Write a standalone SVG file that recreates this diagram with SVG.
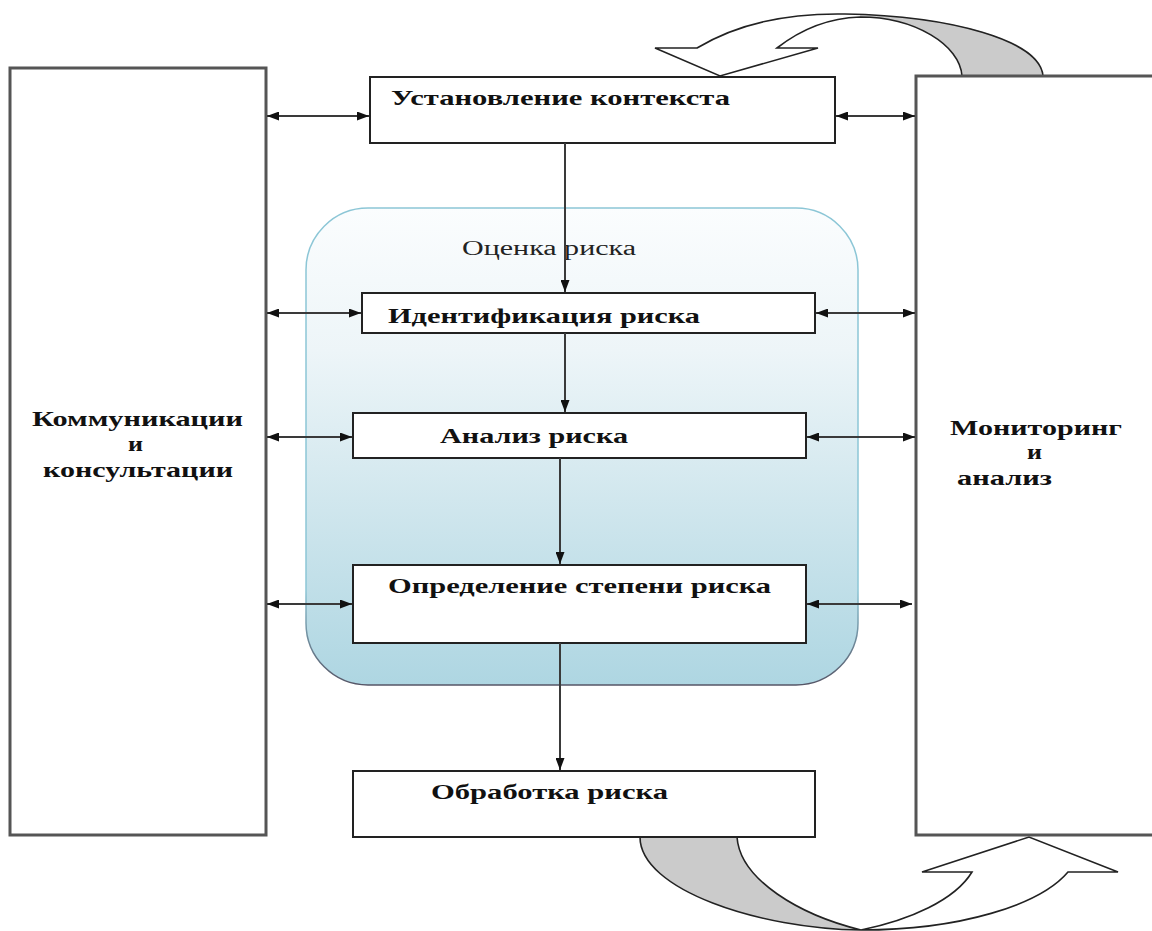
<svg xmlns="http://www.w3.org/2000/svg" width="1152" height="931" viewBox="0 0 1152 931">
<defs>
<linearGradient id="blueGrad" x1="0" y1="0" x2="0" y2="1">
<stop offset="0" stop-color="#fbfdfe"/>
<stop offset="0.3" stop-color="#edf5f8"/>
<stop offset="0.7" stop-color="#c9e3eb"/>
<stop offset="1" stop-color="#aed6e2"/>
</linearGradient>
<linearGradient id="edgeGrad" x1="0" y1="0" x2="0" y2="1">
<stop offset="0" stop-color="#8cc6d6"/>
<stop offset="0.8" stop-color="#8cc6d6"/>
<stop offset="1" stop-color="#556"/>
</linearGradient>
<marker id="ah" viewBox="0 0 12 9" refX="12" refY="4.5" markerWidth="12" markerHeight="9" markerUnits="userSpaceOnUse" orient="auto-start-reverse">
<path d="M0,0 L12,4.5 L0,9 Z" fill="#111"/>
</marker>
<style>
.box{fill:#fff;stroke:#222;stroke-width:2}
.side{fill:#fff;stroke:#555;stroke-width:3}
.t{font-family:"Liberation Serif","Times New Roman",serif;font-weight:bold;font-size:21px;fill:#111}
.tr{font-family:"Liberation Serif","Times New Roman",serif;font-size:20px;fill:#222}
.c{stroke:#3a3a3a;stroke-width:2;fill:none}
.arr{fill:none;stroke:#222;stroke-width:1.6}
.gray{fill:#cbcbcb;stroke:none}
</style>
</defs>
<rect width="1152" height="931" fill="#fff"/>

<g id="cycle-top">
<path class="gray" d="M860,17 C915,17 960,45 962,76 L1043,76 C1040,40 950,16 860,15 Z"/>
<path class="arr" d="M1043,76 C1040,40 950,16 845,14 C790,13 740,22 697,48 L655,48 L720,76 L818,48 L777,48 C800,30 828,18 860,17 C915,17 960,45 962,76"/>
</g>
<g id="cycle-bottom">
<path class="gray" d="M640,837 C640,890 760,929 861,930 C800,915 740,880 737,837 Z"/>
<path class="arr" d="M640,837 C640,890 760,929 861,930 C960,930 1040,905 1068,872 L1118,872 L1029,837 L922,872 L972,872 C955,900 910,920 861,930 C800,915 740,880 737,837"/>
</g>

<g id="comm">
<rect class="side" x="10" y="68" width="256" height="767"/>
<text class="t" x="32" y="426" textLength="211" lengthAdjust="spacingAndGlyphs">Коммуникации</text>
<text class="t" x="128" y="451" textLength="15" lengthAdjust="spacingAndGlyphs">и</text>
<text class="t" x="43" y="477" textLength="190" lengthAdjust="spacingAndGlyphs">консультации</text>
</g>
<g id="monitor">
<path class="side" d="M1156,76 L916,76 L916,835 L1156,835"/>
<text class="t" x="950" y="435" textLength="172" lengthAdjust="spacingAndGlyphs">Мониторинг</text>
<text class="t" x="1027" y="459" textLength="15" lengthAdjust="spacingAndGlyphs">и</text>
<text class="t" x="957" y="485" textLength="95" lengthAdjust="spacingAndGlyphs">анализ</text>
</g>

<g id="assessment">
<rect x="306" y="208" width="552" height="477" rx="62" ry="62" fill="url(#blueGrad)" stroke="url(#edgeGrad)" stroke-width="1.5"/>
<text class="tr" x="462" y="255" textLength="174" lengthAdjust="spacingAndGlyphs">Оценка риска</text>
</g>

<g id="context">
<rect class="box" x="370" y="77" width="465" height="66"/>
<text class="t" x="391" y="105" textLength="339" lengthAdjust="spacingAndGlyphs">Установление контекста</text>
</g>
<g id="identify">
<rect class="box" x="362" y="293" width="453" height="40"/>
<text class="t" x="388" y="323" textLength="312" lengthAdjust="spacingAndGlyphs">Идентификация риска</text>
</g>
<g id="analysis">
<rect class="box" x="353" y="413" width="453" height="45"/>
<text class="t" x="440" y="443" textLength="188" lengthAdjust="spacingAndGlyphs">Анализ риска</text>
</g>
<g id="evaluation">
<rect class="box" x="353" y="565" width="453" height="78"/>
<text class="t" x="388" y="593" textLength="383" lengthAdjust="spacingAndGlyphs">Определение степени риска</text>
</g>
<g id="treatment">
<rect class="box" x="353" y="771" width="462" height="66"/>
<text class="t" x="431" y="799" textLength="237" lengthAdjust="spacingAndGlyphs">Обработка риска</text>
</g>

<g id="connectors">
<line class="c" x1="565" y1="143" x2="565" y2="292" marker-end="url(#ah)"/>
<line class="c" x1="565" y1="333" x2="565" y2="412" marker-end="url(#ah)"/>
<line class="c" x1="560" y1="458" x2="560" y2="564" marker-end="url(#ah)"/>
<line class="c" x1="560" y1="643" x2="560" y2="770" marker-end="url(#ah)"/>

<line class="c" x1="267" y1="116" x2="369" y2="116" marker-start="url(#ah)" marker-end="url(#ah)"/>
<line class="c" x1="267" y1="313" x2="361" y2="313" marker-start="url(#ah)" marker-end="url(#ah)"/>
<line class="c" x1="267" y1="437" x2="352" y2="437" marker-start="url(#ah)" marker-end="url(#ah)"/>
<line class="c" x1="267" y1="604" x2="352" y2="604" marker-start="url(#ah)" marker-end="url(#ah)"/>

<line class="c" x1="836" y1="116" x2="915" y2="116" marker-start="url(#ah)" marker-end="url(#ah)"/>
<line class="c" x1="816" y1="313" x2="915" y2="313" marker-start="url(#ah)" marker-end="url(#ah)"/>
<line class="c" x1="807" y1="437" x2="915" y2="437" marker-start="url(#ah)" marker-end="url(#ah)"/>
<line class="c" x1="807" y1="604" x2="912" y2="604" marker-start="url(#ah)" marker-end="url(#ah)"/>
</g>
</svg>
